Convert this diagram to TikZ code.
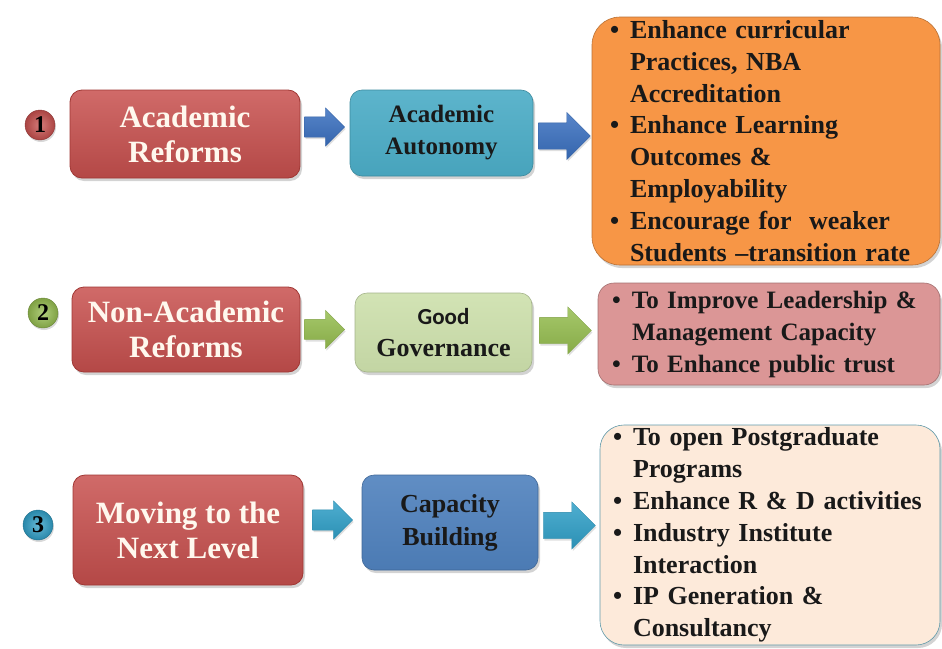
\documentclass[tikz,border=0pt]{standalone}
\usepackage{fontspec}
\setmainfont{Liberation Serif}
\newfontfamily\calibri{Carlito}
\usetikzlibrary{shapes.arrows,shadows,calc}

\definecolor{redfill}{RGB}{200,80,78}
\definecolor{redline}{RGB}{160,55,52}
\definecolor{cyanfill}{RGB}{75,172,198}
\definecolor{bluefill}{RGB}{79,129,189}
\definecolor{bluearr}{RGB}{58,112,192}
\definecolor{tealarr}{RGB}{48,160,200}
\definecolor{greenfill}{RGB}{205,224,172}
\definecolor{greenarr}{RGB}{150,190,80}
\definecolor{orangefill}{RGB}{247,150,70}
\definecolor{pinkfill}{RGB}{219,150,150}
\definecolor{peachfill}{RGB}{253,234,218}
\definecolor{cream}{RGB}{255,248,238}

\newcommand{\itm}{\makebox[20pt][l]{\textbullet}}
\newcommand{\cnt}{\hspace*{20pt}}

\begin{document}
\begin{tikzpicture}
          [x=1pt,y=-1pt,
           every node/.style={font=\bfseries},
           shade/.style={drop shadow={opacity=0.35,shadow xshift=2pt,shadow yshift=-3pt}},
           reform/.style={shade,draw=redline,line width=0.8pt,rounded corners=12pt,
             top color=redfill!85!white,bottom color=redfill!90!black,text=cream,align=center,
             font=\fontsize{31}{35}\selectfont\bfseries},
           midbox/.style={shade,draw=#1!80!black,line width=0.6pt,rounded corners=12pt,
             top color=#1!90!white,bottom color=#1!95!black,text=black!90,align=center},
           outbox/.style={shade,draw=#1!75!black,line width=0.6pt,fill=#1,align=left,
             text=black!90,inner ysep=0pt},
           blockarr/.style={single arrow,draw=#1!85!black,line width=0.3pt,top color=#1!85!white,
             bottom color=#1!90!black,inner sep=0pt,anchor=tail,
             drop shadow={opacity=0.25,shadow xshift=1pt,shadow yshift=-2pt}},
           smallarr/.style={blockarr=#1,text height=20pt,single arrow head extend=9pt,
             minimum width=38pt,minimum height=40pt},
           bigarr/.style={blockarr=#1,text height=26pt,single arrow head extend=10.5pt,
             minimum width=46pt,minimum height=52pt},
           num/.style={circle,draw=#1!70!black,inner color=#1!75!white,outer color=#1!85!black,
             minimum size=30pt,inner sep=0pt,text=black,
             drop shadow={opacity=0.3,shadow xshift=1pt,shadow yshift=-2pt},
             font=\fontsize{24}{24}\selectfont\bfseries}]

          \useasboundingbox (0,0) rectangle (942,648);

          % row 1
          \node[num=redfill] (num1) at (40,125) {1};
          \node[reform,minimum width=230pt,minimum height=88pt] (acref) at (185,134) {Academic\\Reforms};
          \node[midbox=cyanfill,minimum width=183pt,minimum height=86pt,
                font=\fontsize{25}{32}\selectfont\bfseries] (acaut) at (441.5,133) {Academic\\Autonomy};
          \node[outbox=orangefill,rounded corners=28pt,text width=312pt,inner xsep=18pt,
                minimum height=248pt,font=\fontsize{26}{31.8}\selectfont\bfseries] (acout) at (766,141)
            {\itm Enhance curricular\\ \cnt Practices, NBA\\ \cnt Accreditation\\
             \itm Enhance Learning\\ \cnt Outcomes \&\\ \cnt Employability\\
             \itm Encourage for\ \ weaker\\ \cnt Students --transition rate};
          \node[smallarr=bluearr] (arr1a) at ($(acref.east)+(4,-7)$) {};
          \node[bigarr=bluearr] (arr1b) at ($(acaut.east)+(5,3)$) {};

          % row 2
          \node[num=greenarr] (num2) at (43,313) {2};
          \node[reform,minimum width=228pt,minimum height=85pt] (nonref) at (186,329.5) {Non-Academic\\Reforms};
          \node[midbox=greenfill,minimum width=177pt,minimum height=79pt,
                font=\fontsize{26}{32}\selectfont\bfseries] (govern) at (443.5,332.5)
            {{\calibri\fontsize{23}{23}\selectfont Good}\\Governance};
          \node[outbox=pinkfill,rounded corners=16pt,text width=314pt,inner xsep=14pt,
                minimum height=102pt,font=\fontsize{25}{32}\selectfont\bfseries] (govout) at (769,334)
            {\itm To Improve Leadership \&\\ \cnt Management Capacity\\ \itm To Enhance public trust};
          \node[smallarr=greenarr] (arr2a) at ($(nonref.east)+(4,0)$) {};
          \node[bigarr=greenarr] (arr2b) at ($(govern.east)+(7,-2)$) {};

          % row 3
          \node[num=tealarr] (num3) at (38,525) {3};
          \node[reform,minimum width=230pt,minimum height=110pt] (nextlvl) at (188,530) {Moving to the\\Next Level};
          \node[midbox=bluefill,minimum width=176pt,minimum height=95pt,
                font=\fontsize{26}{33}\selectfont\bfseries] (capbld) at (450,522.5) {Capacity\\Building};
          \node[outbox=peachfill,draw=cyanfill!60!gray,rounded corners=24pt,text width=314pt,inner xsep=13pt,
                minimum height=220pt,font=\fontsize{26}{31.8}\selectfont\bfseries] (capout) at (770,535)
            {\itm To open Postgraduate\\ \cnt Programs\\ \itm Enhance R \& D activities\\
             \itm Industry Institute\\ \cnt Interaction\\ \itm IP Generation \&\\ \cnt Consultancy};
          \node[smallarr=tealarr] (arr3a) at ($(nextlvl.east)+(9,-10)$) {};
          \node[bigarr=tealarr] (arr3b) at ($(capbld.east)+(5,3)$) {};
        \end{tikzpicture}
\end{document}
